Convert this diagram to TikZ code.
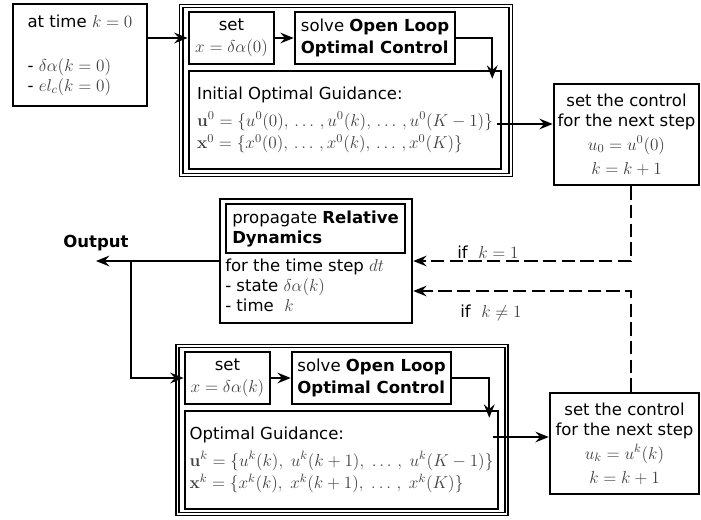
\RequirePackage{fix-cm}
\documentclass[tikz,border=0pt]{standalone}
\usepackage[no-math]{fontspec}
\setmainfont{DejaVu Sans}[Scale=0.961]
\usetikzlibrary{arrows.meta,calc,positioning}
\definecolor{mathgray}{gray}{0.25}
\everymath{\color{mathgray}}

\tikzset{
	box/.style={draw, line width=1.9pt, inner sep=2pt, font=\fontsize{12.9}{15}\selectfont},
	frame/.style={draw, double, line width=1pt, double distance=1.3pt, inner sep=0pt},
	arr/.style={line width=1.6pt, -{Stealth[length=10pt,width=8pt,inset=3.5pt]}},
	dashline/.style={dash pattern=on 10pt off 4pt},
	lbl/.style={inner sep=0pt, font=\fontsize{12.9}{15}\selectfont}
}

\begin{document}
\begin{tikzpicture}[x=0.75pt, y=-0.75pt]
	\useasboundingbox (0,0) rectangle (701,519);

	% start of the loop
	\node[box, minimum width=100.5pt, minimum height=76.5pt, align=left] (start) at (80,55)
		{at time $k=0$\\[18pt] - $\delta\alpha(k=0)$\\ - $el_c(k=0)$};

	% first optimisation
	\node[frame, minimum width=247pt, minimum height=127pt] (frame0) at (346,90.5) {};
	\node[box, minimum width=64pt, minimum height=39pt, align=center] (set0) at (231.5,38) {set\\[2pt] $x=\delta\alpha(0)$};
	\node[box, minimum width=120pt, minimum height=39pt, align=left] (solve0) at (375,38)
		{solve \textbf{Open Loop}\\[1pt] \textbf{Optimal Control}};
	\node[box, minimum width=234pt, minimum height=73.5pt, align=left] (guide0) at (345,120)
		{Initial Optimal Guidance:\\[5pt]
		$\mathbf{u}^0=\{u^0(0),\,\ldots\,,u^0(k),\,\ldots\,,u^0(K-1)\}$\\[2pt]
		$\mathbf{x}^0=\{x^0(0),\,\ldots\,,x^0(k),\,\ldots\,,x^0(K)\}$};
	\node[box, minimum width=108.75pt, minimum height=75.75pt, align=center] (ctrl0) at (626.5,134.5)
		{set the control\\ for the next step\\[3pt] $u_0=u^0(0)$\\[3pt] $k=k+1$};

	% propagation
	\node[box, minimum width=144pt, minimum height=93pt] (prop) at (316,261) {};
	\node[box, minimum width=134.25pt, minimum height=36.75pt, align=left] (proptitle) at (315.5,228.5)
		{propagate \textbf{Relative}\\ \textbf{Dynamics}};
	\node[lbl, anchor=north west, align=left] (propbody) at (225,259)
		{for the time step $dt$\\ - state $\delta\alpha(k)$\\ - time~~$k$};

	\node[lbl, font=\fontsize{12.9}{15}\selectfont\bfseries] (out) at (96,243) {Output};
	\node[lbl] (ifone) at (488,252) {if~~$k=1$};
	\node[lbl] (ifnotone) at (491,313) {if~~$k\neq1$};

	% next optimisations
	\node[frame, minimum width=246.75pt, minimum height=126pt] (frame1) at (342,430) {};
	\node[box, minimum width=64pt, minimum height=39pt, align=center] (set1) at (227.5,378) {set\\[2pt] $x=\delta\alpha(k)$};
	\node[box, minimum width=119.25pt, minimum height=39pt, align=left] (solve1) at (371.5,378)
		{solve \textbf{Open Loop}\\[1pt] \textbf{Optimal Control}};
	\node[box, minimum width=234.75pt, minimum height=73.5pt, align=left] (guide1) at (341.5,460)
		{Optimal Guidance:\\[5pt]
		$\mathbf{u}^k=\{u^k(k),\;u^k(k+1),\;\ldots\,,\;u^k(K-1)\}$\\[2pt]
		$\mathbf{x}^k=\{x^k(k),\;x^k(k+1),\;\ldots\,,\;x^k(K)\}$};
	\node[box, minimum width=111.75pt, minimum height=75.75pt, align=center] (ctrl1) at (624.5,443.5)
		{set the control\\ for the next step\\[3pt] $u_k=u^k(k)$\\[3pt] $k=k+1$};

	% connectors
	\draw[arr] (start.east |- set0.west) -- (set0.west);
	\draw[arr] (set0) -- (solve0);
	\draw[arr] (solve0.east) -| ($(guide0.north east)+(-10,9)$);
	\coordinate (g0) at ($(guide0.east)+(-5,4)$);
	\draw[arr] (g0) -- (g0 -| ctrl0.west);

	\draw[arr, dashline] ($(ctrl0.south)+(4.5,0)$) |- (prop.east);
	\draw[arr, dashline] ($(ctrl1.north)+(6.5,0)$) |- ($(prop.east)+(0,30)$);

	\coordinate (split) at (131,261);
	\draw[arr] (prop.west) -- (out.south |- prop.west);
	\draw[arr] (split) |- (set1.west);

	\draw[arr] (set1) -- (solve1);
	\draw[arr] (solve1.east) -| ($(guide1.north east)+(-10,8)$);
	\coordinate (g1) at ($(guide1.east)+(-6,-23)$);
	\draw[arr] (g1) -- (g1 -| ctrl1.west);
\end{tikzpicture}
\end{document}
